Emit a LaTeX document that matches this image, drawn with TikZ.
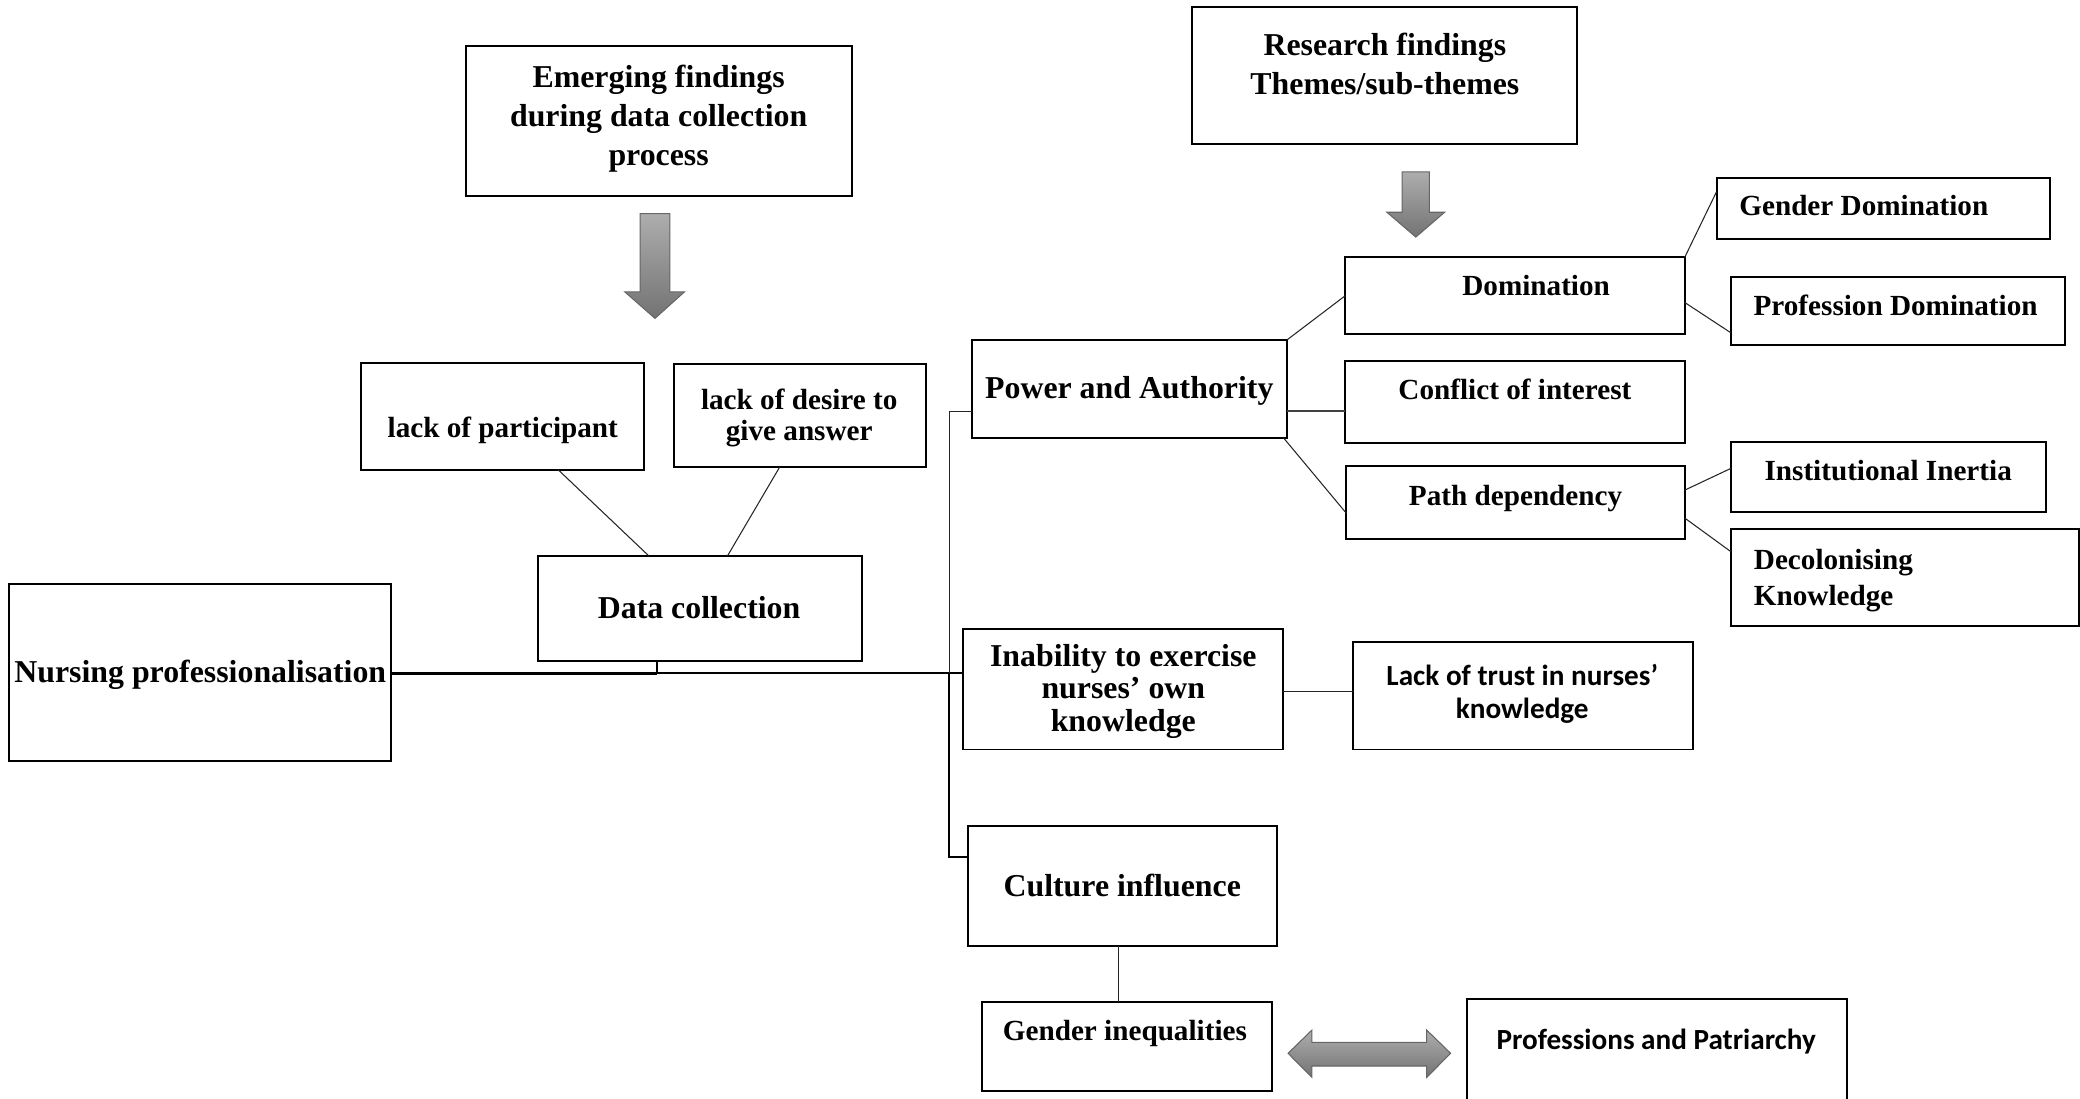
\documentclass[tikz,border=0pt]{standalone}
\usepackage{fontspec}
\setmainfont{Liberation Serif}
\newfontfamily\calfont{Carlito}
\usetikzlibrary{calc}

\tikzset{
  box/.style={draw=black, line width=1.5pt, inner sep=0pt, outer sep=0pt, rectangle},
  tbig/.style={font=\fontsize{24}{28}\selectfont\bfseries, inner sep=0pt, align=center},
  tsmall/.style={font=\fontsize{22}{26}\selectfont\bfseries, inner sep=0pt, align=center},
  tcal/.style={font=\calfont\fontsize{22}{25}\selectfont\bfseries, inner sep=0pt, align=center},
  thinlink/.style={draw=black!85, line width=0.8pt},
  thicklink/.style={draw=black, line width=1.5pt},
  blockarrow/.style={draw=black!60, line width=0.8pt, top color=black!32, bottom color=black!55},
}
% box from its top-left corner (x1,y1) to its bottom-right corner (x2,y2)
\newcommand\rbox[5]{%
  \node[box, minimum width={#4pt-#2pt}, minimum height={#5pt-#3pt}] (#1) at ({(#2+#4)/2},{(#3+#5)/2}) {};}

\begin{document}
\begin{tikzpicture}[x=1pt, y=-1pt]
\useasboundingbox (0,0) rectangle (1568,828);

% ---- boxes ----
\rbox{emerg}{351}{35}{642}{148}
\rbox{research}{898.5}{5.5}{1189}{108.5}
\rbox{gdom}{1294}{134}{1545}{180}
\rbox{dom}{1014}{194}{1270}{252}
\rbox{pdom}{1305}{209}{1557}{260}
\rbox{power}{733}{256}{970.5}{330}
\rbox{conf}{1014}{272}{1270}{334}
\rbox{path}{1015}{351}{1270}{406}
\rbox{inst}{1305}{333}{1542}{386}
\rbox{decol}{1305}{399}{1567}{472}
\rbox{lpart}{272}{273.4}{485.5}{354}
\rbox{ldes}{508}{274.6}{698}{352}
\rbox{dc}{405.5}{419}{650}{498}
\rbox{nurs}{7}{440}{295}{574}
\rbox{inab}{726}{474}{967}{565}
\rbox{trust}{1020}{484}{1276}{565}
\rbox{culture}{730}{623}{963}{713}
\rbox{ginq}{740}{755}{959}{822.5}
\rbox{patr}{1106}{753}{1392}{835}

% ---- texts ----
\node[tbig, font=\fontsize{24}{29.3}\selectfont\bfseries] (emerg-t) at (496.5,89.5)
  {Emerging findings\\during data collection\\process};
\node[tbig, font=\fontsize{24}{29.6}\selectfont\bfseries] (research-t) at (1044,48.3)
  {Research findings\\Themes/sub-themes};
\node[tsmall, anchor=base west] (gdom-t) at (1311,162.6) {Gender Domination};
\node[tsmall, anchor=base] (dom-t) at (1158,222.8) {Domination};
\node[tsmall, anchor=base] (pdom-t) at (1429,237.8) {Profession Domination};
\node[tbig, anchor=base] (power-t) at (851.3,300.5) {Power and Authority};
\node[tsmall, anchor=base] (conf-t) at (1142,301.5) {Conflict of interest};
\node[tsmall, anchor=base] (path-t) at (1142.5,381) {Path dependency};
\node[tsmall, anchor=base] (inst-t) at (1423.4,362.5) {Institutional Inertia};
\node[tsmall, align=left, anchor=west, font=\fontsize{22}{26.8}\selectfont\bfseries] (decol-t)
  at (1322,437.5) {Decolonising\\Knowledge};
\node[tsmall, anchor=base] (lpart-t) at (379,329.5) {lack of participant};
\node[tsmall, font=\fontsize{22}{23.5}\selectfont\bfseries] (ldes-t) at (602.5,315)
  {lack of desire to\\give answer};
\node[tbig, anchor=base] (dc-t) at (527,466) {Data collection};
\node[tbig, anchor=base] (nurs-t) at (151,514.5) {Nursing professionalisation};
\node[tbig, font=\fontsize{24}{24.5}\selectfont\bfseries] (inab-t) at (846.8,521)
  {Inability to exercise\\nurses’ own\\knowledge};
\node[tcal] (trust-t) at (1147.5,523.3) {Lack of trust in nurses’\\knowledge};
\node[tbig, anchor=base] (culture-t) at (846,675.5) {Culture influence};
\node[tsmall, anchor=base] (ginq-t) at (848,784.5) {Gender inequalities};
\node[tcal, anchor=base] (patr-t) at (1248.5,791) {Professions and Patriarchy};

% ---- block arrows ----
\path[blockarrow] (482.5,161) -- (505,161) -- (505,220) -- (516,220) -- (493.75,240)
  -- (471,220) -- (482.5,220) -- cycle;
\path[blockarrow] (1057,129.5) -- (1077.5,129.5) -- (1077.5,160) -- (1089,160) -- (1067.3,178.7)
  -- (1045.5,160) -- (1057,160) -- cycle;
\path[blockarrow] (971,794) -- (989,776.5) -- (989,785.8) -- (1075.5,785.8) -- (1075.5,776.5)
  -- (1093.5,794) -- (1075.5,812.2) -- (1075.5,803.6) -- (989,803.6) -- (989,812.2) -- cycle;

% ---- connectors ----
\coordinate (stub) at (495,507.6);
\coordinate (spT) at (715.5,310);
\coordinate (spJ) at (715.5,507.6);
\coordinate (spB) at (715.5,646);

\draw[thinlink] ([xshift=41.9pt]lpart.south) -- ([xshift=-38.7pt]dc.north);
\draw[thinlink] ([xshift=-15.2pt]ldes.south) -- ([xshift=20.7pt]dc.north);

\draw[line width=2.6pt] (nurs.east |- stub) -- (stub);
\draw[thicklink] (stub |- dc.south) -- (stub);
\draw[thicklink] (stub) -- (spJ) -- (spJ -| inab.west);
\draw[thinlink] (spJ) -- (spT) -- (spT -| power.west);
\draw[thicklink] (spJ) -- (spB) -- (spB -| culture.west);

\draw[thinlink] (power.north east) -- (dom.west);
\draw[draw=black!75, line width=1.2pt] (spT -| power.east) -- (spT -| conf.west);
\draw[thinlink] ([xshift=-3pt]power.south east) -- ([yshift=-8.5pt]path.west);

\draw[thinlink] (dom.north east) -- ([yshift=12.5pt]gdom.west);
\draw[thinlink] ([yshift=-5pt]dom.east) -- ([yshift=-16.5pt]pdom.west);
\draw[thinlink] ([yshift=9pt]path.east) -- ([yshift=6.5pt]inst.west);
\draw[thinlink] ([yshift=-12pt]path.east) -- ([yshift=19.5pt]decol.west);

\draw[thinlink] ([yshift=-2pt]inab.east) -- ([yshift=-2pt]inab.east -| trust.west);
\draw[thinlink] ([xshift=-3pt]culture.south) -- ([xshift=-3pt]culture.south |- ginq.north);
\end{tikzpicture}
\end{document}
